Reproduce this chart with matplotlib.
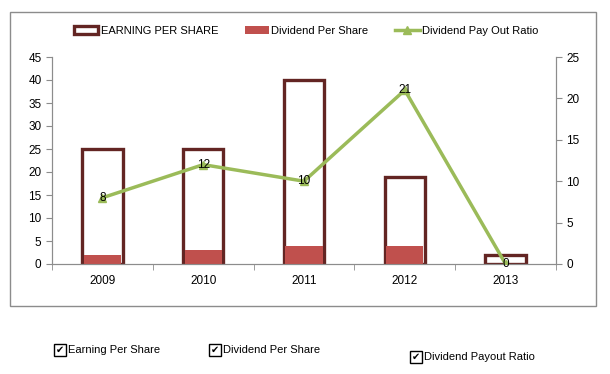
import matplotlib.pyplot as plt
from matplotlib.patches import Rectangle
import numpy as np

years = ['2009', '2010', '2011', '2012', '2013']
eps = [25, 25, 40, 19, 2]
dps = [2, 3, 4, 4, 0]
payout = [8, 12, 10, 21, 0]

plt.rcParams['font.family'] = ['Liberation Sans', 'DejaVu Sans']
plt.rcParams['font.size'] = 8.5

fig = plt.figure(figsize=(6.1, 3.74), dpi=100)
W, H = 610, 374

# outer chart border
fig.patches.append(Rectangle((10 / W, 1 - 306 / H), 586 / W, 294 / H, transform=fig.transFigure,
                             fill=False, edgecolor='#8c8c8c', linewidth=1))

ax = fig.add_axes([52 / W, 1 - 264 / H, 504 / W, 207 / H])
ax2 = ax.twinx()

x = np.arange(len(years))
w = 0.4
b1 = ax.bar(x, eps, w, facecolor='white', edgecolor='#632523', linewidth=2.4, zorder=2,
            label='EARNING PER SHARE')
b2 = ax.bar(x, dps, w - 0.03, color='#C0504D', zorder=3, label='Dividend Per Share')
ln, = ax2.plot(x, payout, color='#9BBB59', linewidth=2.5, marker='^', markersize=6,
               label='Dividend Pay Out Ratio', zorder=4)
for xi, v in zip(x, payout):
    ax2.text(xi, v, str(v), ha='center', va='center', fontsize=8.5, color='black', zorder=5)

ax.set_xlim(-0.5, 4.5)
ax.set_ylim(0, 45)
ax.set_yticks(range(0, 46, 5))
ax2.set_ylim(0, 25)
ax2.set_yticks(range(0, 26, 5))
ax.set_xticks(x)
ax.set_xticklabels(years)
ax.set_xticks(np.arange(-0.5, 5, 1), minor=True)
ax.tick_params(axis='x', which='major', length=0, pad=8)
ax.tick_params(axis='x', which='minor', length=4, color='#8c8c8c', direction='out')
ax.tick_params(axis='y', length=4, color='#8c8c8c', direction='out')
ax2.tick_params(axis='y', length=4, color='#8c8c8c', direction='out')
ax2.set_zorder(ax.get_zorder() + 1)
ax2.patch.set_visible(False)

for a in (ax, ax2):
    a.spines['top'].set_visible(False)
    for s in ('left', 'right', 'bottom'):
        a.spines[s].set_color('#8c8c8c')

fig.legend([b1, b2, ln], ['EARNING PER SHARE', 'Dividend Per Share', 'Dividend Pay Out Ratio'],
           loc='center', bbox_to_anchor=(306 / W, 1 - 31 / H), ncol=3, frameon=False,
           handlelength=2.2, handletextpad=0.2, columnspacing=2.4, fontsize=8)

# checkboxes below the chart
checks = [('Earning Per Share', 54, 350), ('Dividend Per Share', 209, 350),
          ('Dividend Payout Ratio', 410, 357)]
for label, px, py in checks:
    fig.patches.append(Rectangle((px / W, 1 - (py + 6) / H), 12 / W, 12 / H,
                                 transform=fig.transFigure, fill=False,
                                 edgecolor='black', linewidth=1))
    fig.text((px + 6) / W, 1 - py / H, '\u2714', ha='center', va='center', fontsize=7,
             family='DejaVu Sans')
    fig.text((px + 14) / W, 1 - py / H, label, ha='left', va='center', fontsize=8)

fig.savefig('out.png', dpi=100)
